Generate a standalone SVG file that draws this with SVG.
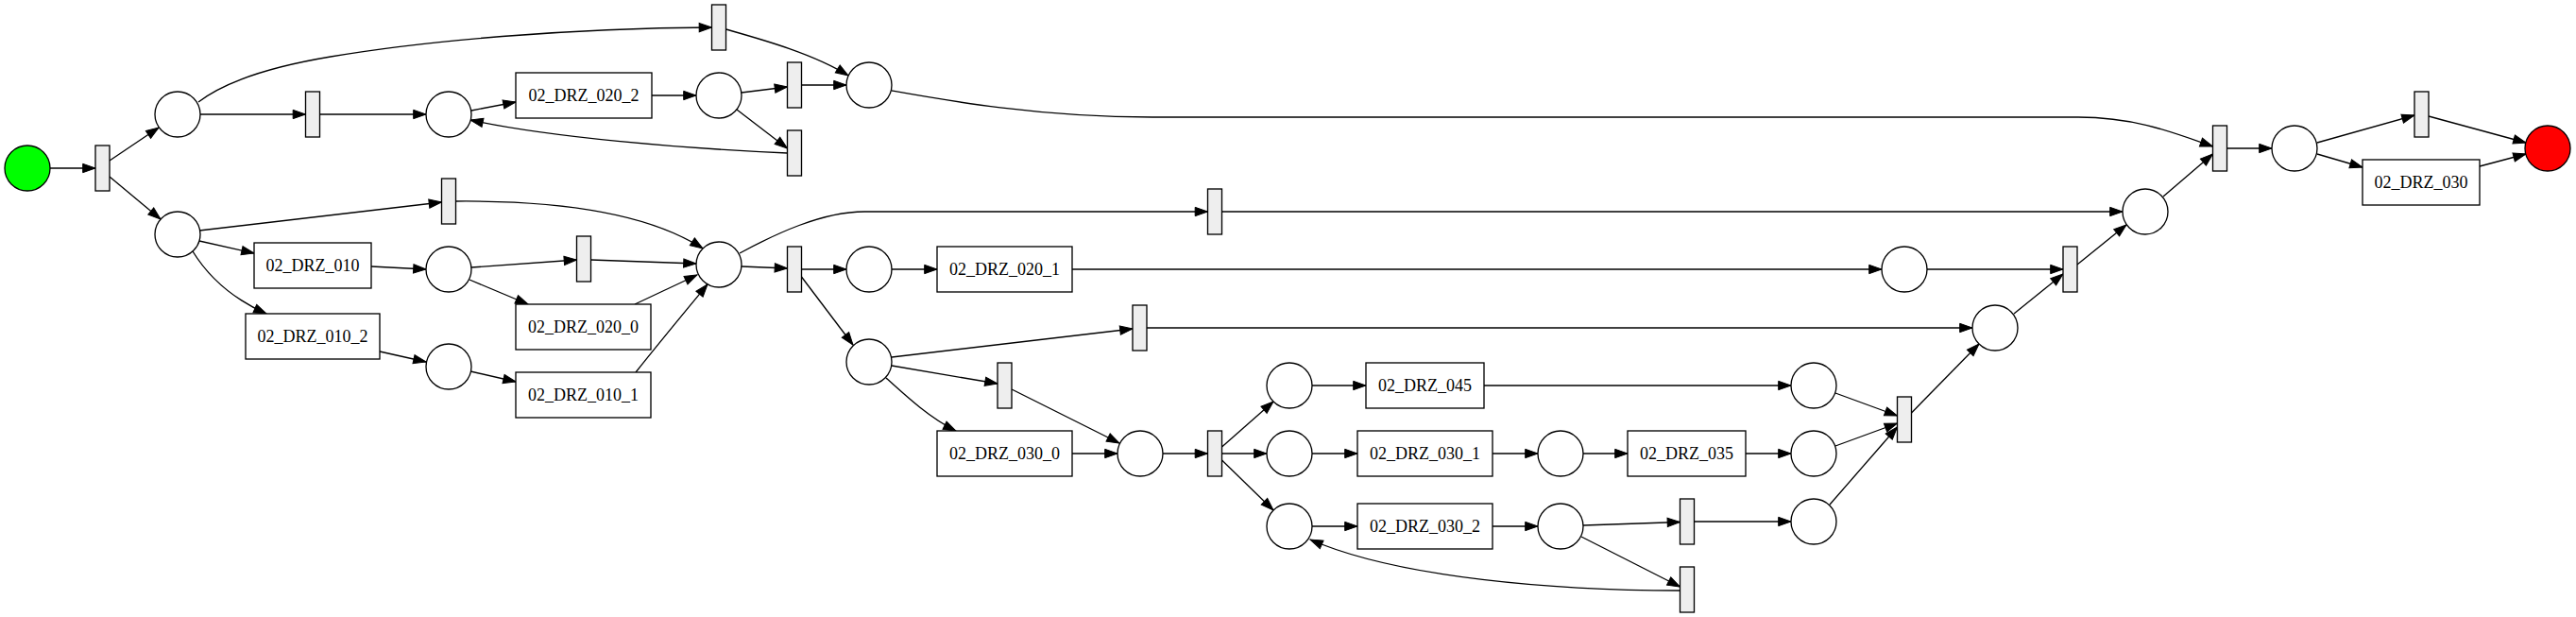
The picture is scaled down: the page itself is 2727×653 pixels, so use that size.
<svg xmlns="http://www.w3.org/2000/svg" width="2727" height="653" viewBox="0 0 2727 653">
<style>
.pl{fill:#ffffff;stroke:#000;stroke-width:1.33}
.tr{fill:#eeeeee;stroke:#000;stroke-width:1.33}
.bx{fill:#ffffff;stroke:#000;stroke-width:1.33}
.lb{font-family:"Liberation Serif","Times New Roman",serif;font-size:18px;fill:#000;text-anchor:middle}
.ed path{fill:none;stroke:#000;stroke-width:1.33;marker-end:url(#ah)}
</style>
<defs>
<marker id="ah" markerUnits="userSpaceOnUse" viewBox="0 0 13.3 9.3" refX="13.3" refY="4.65" markerWidth="13.3" markerHeight="9.3" orient="auto" overflow="visible">
<path d="M0,0 L13.3,4.65 L0,9.3 z" fill="#000" stroke="#000" stroke-width="1"/>
</marker>
</defs>
<rect width="2727" height="653" fill="#ffffff"/>
<g id="edges" class="ed">
<path d="M53,178 L101,178"/>
<path d="M116,170 L168,135"/>
<path d="M116,187 L170,232"/>
<path d="M212,121 L323.5,121"/>
<path d="M338.5,121 L451,121"/>
<path d="M499,117 L546,108"/>
<path d="M690,101 L737,101"/>
<path d="M785,98 L833.5,92"/>
<path d="M780,116 L833.5,157"/>
<path d="M848.5,90 L896,90"/>
<path d="M768.5,31 C800,40 860,56 898,80"/>
<path d="M833.5,162 C720,157 580,145 498,127"/>
<path d="M210,108 C240,85 290,70 350,60 C450,43 600,30 753.5,29"/>
<path d="M211,244 L467.5,214"/>
<path d="M211,255 L269,268"/>
<path d="M204,266 C225,300 255,320 282,332"/>
<path d="M393,282 L451,285"/>
<path d="M402,372 L451,383"/>
<path d="M499,283 L610.5,275"/>
<path d="M497,296 L559,322"/>
<path d="M498,393 L546,404"/>
<path d="M625.5,275 L737,279"/>
<path d="M482.5,213 C600,212 690,228 744,263"/>
<path d="M672,322 L738,291"/>
<path d="M673,394 C700,360 725,330 749,301"/>
<path d="M785,282 L833.5,284"/>
<path d="M783,268 C820,248 870,224 915,224 L1278.5,224"/>
<path d="M848.5,285 L896,285"/>
<path d="M848.5,293 L903,365"/>
<path d="M944,285 L992,285"/>
<path d="M1135,285 L1992,285"/>
<path d="M2040,285 L2184,285"/>
<path d="M1293.5,224 L2247,224"/>
<path d="M944,378 L1199,348"/>
<path d="M1214,347 L2088,347"/>
<path d="M944,387 L1056,406"/>
<path d="M938,400 C960,420 985,443 1012,456"/>
<path d="M1071,412 L1185,469"/>
<path d="M1135,480 L1183,480"/>
<path d="M1231,480 L1278.5,480"/>
<path d="M1293.5,473 L1348,425"/>
<path d="M1293.5,480 L1341,480"/>
<path d="M1293.5,487 L1348,540"/>
<path d="M1389,408 L1446,408"/>
<path d="M1571,408 L1896,408"/>
<path d="M1389,480 L1437,480"/>
<path d="M1580,480 L1628,480"/>
<path d="M1676,480 L1723,480"/>
<path d="M1848,480 L1896,480"/>
<path d="M1389,557 L1437,557"/>
<path d="M1580,557 L1628,557"/>
<path d="M1676,556 L1778.5,552.5"/>
<path d="M1674,568 L1778.5,621"/>
<path d="M1778.5,625 C1650,625 1480,612 1387,571"/>
<path d="M1793.5,552 L1896,552"/>
<path d="M1943,416 L2008.5,440"/>
<path d="M1943,472 L2008.5,448"/>
<path d="M1937,534 L2008.5,452"/>
<path d="M2023.5,437 L2095,364"/>
<path d="M2132,332 L2184,290"/>
<path d="M2199,280 L2251,238"/>
<path d="M2290,208 L2342.5,163"/>
<path d="M944,96 C1000,106 1100,124 1220,124 L2200,124 C2260,124 2300,140 2342.5,155"/>
<path d="M2357.5,157 L2405,157"/>
<path d="M2453,151 L2556,122"/>
<path d="M2453,163 L2501,177"/>
<path d="M2571,123 L2674,151"/>
<path d="M2625,176 L2674,163"/>
</g>
<g id="start"><circle cx="29" cy="178" r="24" fill="#00ff00" stroke="#000" stroke-width="1.33"/></g>
<g id="end"><circle cx="2697" cy="157" r="24" fill="#ff0000" stroke="#000" stroke-width="1.33"/></g>
<g id="p1"><circle class="pl" cx="188" cy="121" r="24"/></g>
<g id="p2"><circle class="pl" cx="188" cy="248" r="24"/></g>
<g id="p3"><circle class="pl" cx="475" cy="121" r="24"/></g>
<g id="p4"><circle class="pl" cx="761" cy="101" r="24"/></g>
<g id="p5"><circle class="pl" cx="920" cy="90" r="24"/></g>
<g id="p6"><circle class="pl" cx="475" cy="285" r="24"/></g>
<g id="p7"><circle class="pl" cx="475" cy="388" r="24"/></g>
<g id="pm"><circle class="pl" cx="761" cy="280" r="24"/></g>
<g id="p8"><circle class="pl" cx="920" cy="285" r="24"/></g>
<g id="p10"><circle class="pl" cx="920" cy="383" r="24"/></g>
<g id="p11"><circle class="pl" cx="1207" cy="480" r="24"/></g>
<g id="p12"><circle class="pl" cx="1365" cy="408" r="24"/></g>
<g id="p13"><circle class="pl" cx="1365" cy="480" r="24"/></g>
<g id="p14"><circle class="pl" cx="1365" cy="557" r="24"/></g>
<g id="p15"><circle class="pl" cx="1920" cy="408" r="24"/></g>
<g id="p16"><circle class="pl" cx="1652" cy="480" r="24"/></g>
<g id="p17"><circle class="pl" cx="1920" cy="480" r="24"/></g>
<g id="p18"><circle class="pl" cx="1652" cy="557" r="24"/></g>
<g id="p19"><circle class="pl" cx="1920" cy="552" r="24"/></g>
<g id="p9"><circle class="pl" cx="2016" cy="285" r="24"/></g>
<g id="pj2"><circle class="pl" cx="2112" cy="347" r="24"/></g>
<g id="pj"><circle class="pl" cx="2271" cy="224" r="24"/></g>
<g id="pf"><circle class="pl" cx="2429" cy="157" r="24"/></g>
<g id="t0"><rect class="tr" x="101" y="154" width="15" height="48"/></g>
<g id="t1"><rect class="tr" x="323.5" y="97" width="15" height="48"/></g>
<g id="t_top"><rect class="tr" x="753.5" y="5" width="15" height="48"/></g>
<g id="t2"><rect class="tr" x="833.5" y="66" width="15" height="48"/></g>
<g id="t3"><rect class="tr" x="833.5" y="138" width="15" height="48"/></g>
<g id="t4"><rect class="tr" x="467.5" y="189" width="15" height="48"/></g>
<g id="t5"><rect class="tr" x="610.5" y="250" width="15" height="48"/></g>
<g id="tm"><rect class="tr" x="833.5" y="261" width="15" height="48"/></g>
<g id="t_long1"><rect class="tr" x="1278.5" y="200" width="15" height="48"/></g>
<g id="t_long2"><rect class="tr" x="1199" y="323" width="15" height="48"/></g>
<g id="t6"><rect class="tr" x="1056" y="384" width="15" height="48"/></g>
<g id="t_split"><rect class="tr" x="1278.5" y="456" width="15" height="48"/></g>
<g id="t7"><rect class="tr" x="1778.5" y="528" width="15" height="48"/></g>
<g id="t8"><rect class="tr" x="1778.5" y="600" width="15" height="48"/></g>
<g id="tj3"><rect class="tr" x="2008.5" y="420" width="15" height="48"/></g>
<g id="tj1"><rect class="tr" x="2184" y="261" width="15" height="48"/></g>
<g id="tf1"><rect class="tr" x="2342.5" y="133" width="15" height="48"/></g>
<g id="tf"><rect class="tr" x="2556" y="97" width="15" height="48"/></g>
<g id="b020_2"><rect class="bx" x="546" y="77" width="144" height="48"/><text class="lb" x="618" y="107">02_DRZ_020_2</text></g>
<g id="b010"><rect class="bx" x="269" y="257" width="124" height="48"/><text class="lb" x="331" y="287">02_DRZ_010</text></g>
<g id="b010_2"><rect class="bx" x="260" y="332" width="142" height="48"/><text class="lb" x="331" y="362">02_DRZ_010_2</text></g>
<g id="b020_0"><rect class="bx" x="546" y="322" width="143" height="48"/><text class="lb" x="617.5" y="352">02_DRZ_020_0</text></g>
<g id="b010_1"><rect class="bx" x="546" y="394" width="143" height="48"/><text class="lb" x="617.5" y="424">02_DRZ_010_1</text></g>
<g id="b020_1"><rect class="bx" x="992" y="261" width="143" height="48"/><text class="lb" x="1063.5" y="291">02_DRZ_020_1</text></g>
<g id="b030_0"><rect class="bx" x="992" y="456" width="143" height="48"/><text class="lb" x="1063.5" y="486">02_DRZ_030_0</text></g>
<g id="b045"><rect class="bx" x="1446" y="384" width="125" height="48"/><text class="lb" x="1508.5" y="414">02_DRZ_045</text></g>
<g id="b030_1"><rect class="bx" x="1437" y="456" width="143" height="48"/><text class="lb" x="1508.5" y="486">02_DRZ_030_1</text></g>
<g id="b030_2"><rect class="bx" x="1437" y="533" width="143" height="48"/><text class="lb" x="1508.5" y="563">02_DRZ_030_2</text></g>
<g id="b035"><rect class="bx" x="1723" y="456" width="125" height="48"/><text class="lb" x="1785.5" y="486">02_DRZ_035</text></g>
<g id="b030"><rect class="bx" x="2501" y="169" width="124" height="48"/><text class="lb" x="2563" y="199">02_DRZ_030</text></g>
</svg>
